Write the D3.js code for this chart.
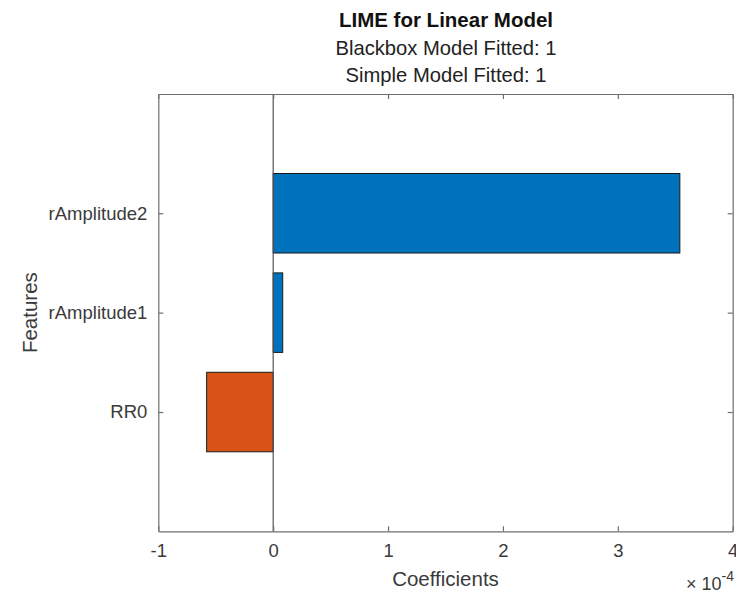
<!DOCTYPE html>
<html>
<head>
<meta charset="utf-8">
<script src="https://cdn.jsdelivr.net/npm/d3@7"></script>
<style>
    body { margin: 0; background: #fff; }
    svg { display: block; font-family: "Liberation Sans", Arial, sans-serif; }
</style>
</head>
<body>
<svg id="chart" width="736" height="593"></svg>
<script>
// Features, bottom to top
const features = ["RR0", "rAmplitude1", "rAmplitude2"];

// Coefficients of the simple model
const coefficients = [-0.579e-4, 0.083e-4, 3.54e-4];

// Axis ticks (in units of 10^-4)
const xTicks = [-1, 0, 1, 2, 3, 4];
const exponent = -4;

// Title lines
const titleText = "LIME for Linear Model";
const subtitles = ["Blackbox Model Fitted: 1", "Simple Model Fitted: 1"];

// Colours for positive / negative coefficients
const posColor = "#0072BD";
const negColor = "#D95319";

let svg = d3.select("#chart");

// Plot box
let margin = { top: 94, right: 3.3, bottom: 61.7, left: 158.3 };
let width = 736 - margin.left - margin.right;
let height = 593 - margin.top - margin.bottom;

let g = svg.append("g").attr("transform", "translate(" + margin.left + "," + margin.top + ")");

let scale = Math.pow(10, exponent);

let x = d3.scaleLinear().domain([-1 * scale, 4 * scale]).range([0, width]);
let y = d3.scaleLinear().domain([-0.2, 4.2]).range([height, 0]);

let axisColor = "#6e6e6e";
let textColor = "#3a3a3a";
let tickLen = 5;

// Bars
let barHalf = 0.4;
g.selectAll("rect.bar")
    .data(features)
    .enter()
    .append("rect")
    .attr("class", "bar")
    .attr("x", (d, i) => x(Math.min(0, coefficients[i])))
    .attr("width", (d, i) => Math.abs(x(coefficients[i]) - x(0)))
    .attr("y", (d, i) => y(i + 1 + barHalf))
    .attr("height", (d, i) => y(i + 1 - barHalf) - y(i + 1 + barHalf))
    .attr("fill", (d, i) => coefficients[i] < 0 ? negColor : posColor)
    .attr("stroke", "#1a1a1a")
    .attr("stroke-width", 1);

// Baseline at zero
g.append("line")
    .attr("x1", x(0)).attr("x2", x(0))
    .attr("y1", 0).attr("y2", height)
    .attr("stroke", "#555")
    .attr("stroke-width", 1.2);

// Bottom axis
let xAxis = d3.axisBottom(x)
    .tickValues(xTicks.map(t => t * scale))
    .tickFormat(d => String(Math.round(d / scale)))
    .tickSizeInner(-tickLen)
    .tickSizeOuter(0)
    .tickPadding(13);

let xg = g.append("g").attr("transform", "translate(0," + height + ")").call(xAxis);

// Top mirror ticks
let xTop = d3.axisTop(x)
    .tickValues(xTicks.map(t => t * scale))
    .tickFormat("")
    .tickSizeInner(-tickLen)
    .tickSizeOuter(0);
let xtg = g.append("g").call(xTop);

// Left axis
let yAxis = d3.axisLeft(y)
    .tickValues(features.map((d, i) => i + 1))
    .tickFormat((d) => features[d - 1])
    .tickSizeInner(-tickLen)
    .tickSizeOuter(0)
    .tickPadding(11);
let yg = g.append("g").call(yAxis);

// Right mirror ticks
let yRight = d3.axisRight(y)
    .tickValues(features.map((d, i) => i + 1))
    .tickFormat("")
    .tickSizeInner(-tickLen)
    .tickSizeOuter(0);
let yrg = g.append("g").attr("transform", "translate(" + width + ",0)").call(yRight);

[xg, xtg, yg, yrg].forEach(a => {
    a.select(".domain").attr("stroke", axisColor).attr("stroke-width", 1.2);
    a.selectAll(".tick line").attr("stroke", axisColor).attr("stroke-width", 1.2);
    a.selectAll(".tick text").attr("fill", textColor).attr("font-size", "18.5px");
});
xg.selectAll(".tick text").attr("dy", "0.71em");

// Title
svg.append("text")
    .attr("x", 446).attr("y", 26.5)
    .attr("text-anchor", "middle")
    .attr("font-size", "20.5px")
    .attr("font-weight", "bold")
    .attr("fill", "#111")
    .text(titleText);

svg.selectAll("text.subtitle")
    .data(subtitles)
    .enter()
    .append("text")
    .attr("class", "subtitle")
    .attr("x", 446)
    .attr("y", (d, i) => 55 + i * 26.5)
    .attr("text-anchor", "middle")
    .attr("font-size", "20.2px")
    .attr("fill", "#222")
    .text(d => d);

// Axis labels
svg.append("text")
    .attr("x", margin.left + x(1.5 * scale))
    .attr("y", 586)
    .attr("text-anchor", "middle")
    .attr("font-size", "20.5px")
    .attr("fill", textColor)
    .text("Coefficients");

svg.append("text")
    .attr("transform", "translate(37," + (margin.top + height / 2) + ") rotate(-90)")
    .attr("text-anchor", "middle")
    .attr("font-size", "20.5px")
    .attr("fill", textColor)
    .text("Features");

// Exponent marker
let expText = svg.append("text")
    .attr("x", 734)
    .attr("y", 590)
    .attr("text-anchor", "end")
    .attr("font-size", "18px")
    .attr("fill", textColor);
expText.append("tspan").text("\u00d7 10");
expText.append("tspan").attr("dy", -9).attr("font-size", "14px").text(String(exponent));
</script>
</body>
</html>
